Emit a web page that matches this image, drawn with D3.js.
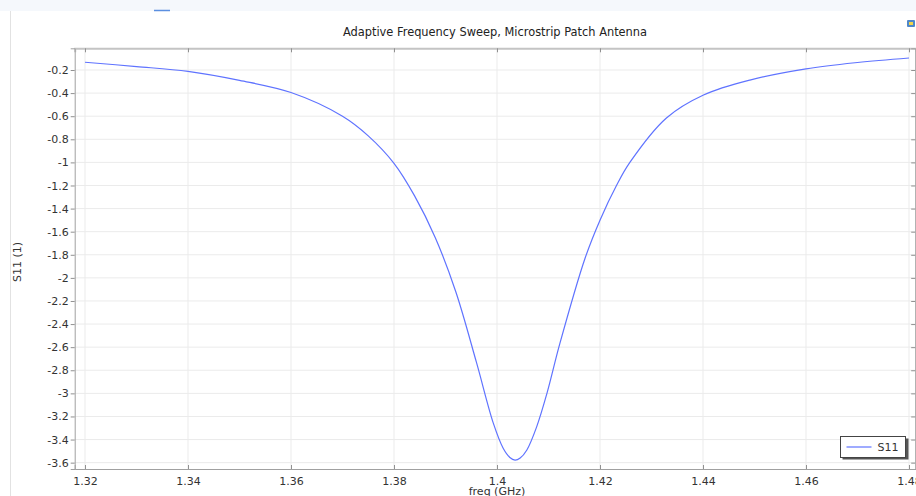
<!DOCTYPE html>
<html>
<head>
<meta charset="utf-8">
<script src="https://cdn.jsdelivr.net/npm/d3@7"></script>
<style>
  html, body { margin: 0; padding: 0; background: #fff; }
  svg { display: block; font-family: "DejaVu Sans", sans-serif; }
</style>
</head>
<body>
<svg id="chart" width="916" height="496"></svg>
<script>
// S11 vs frequency
var freq = [1.32, 1.33, 1.34, 1.35, 1.36, 1.37, 1.375, 1.38, 1.384, 1.388, 1.392, 1.396,
            1.3993, 1.4012, 1.4025, 1.4035, 1.4045, 1.4058, 1.4077, 1.4097, 1.4122, 1.4171,
            1.42, 1.4232, 1.4258, 1.4329, 1.4401, 1.4491, 1.46, 1.47, 1.48];
var s11 = [-0.133, -0.17, -0.212, -0.29, -0.395, -0.60, -0.77, -1.008, -1.29, -1.65, -2.12, -2.73,
           -3.26, -3.475, -3.555, -3.578, -3.56, -3.49, -3.29, -3.00, -2.57, -1.83,
           -1.50, -1.20, -1.00, -0.615, -0.416, -0.287, -0.19, -0.135, -0.096];
var xTicks = [1.32, 1.34, 1.36, 1.38, 1.40, 1.42, 1.44, 1.46, 1.48];
var yTicks = [-0.2, -0.4, -0.6, -0.8, -1, -1.2, -1.4, -1.6, -1.8, -2, -2.2, -2.4, -2.6, -2.8, -3, -3.2, -3.4, -3.6];

var svg = d3.select("#chart");

var pLeft = 74.7, pRight = 916.2, pTop = 48.3, pBottom = 469;

var x = d3.scaleLinear().domain([1.318, 1.4814]).range([pLeft, pRight]);
var y = d3.scaleLinear().domain([-3.655, -0.012]).range([pBottom, pTop]);

// window chrome
svg.append("rect").attr("x", 0).attr("y", 0).attr("width", 916).attr("height", 11).attr("fill", "#f5f8fc");
svg.append("line").attr("x1", 10.5).attr("x2", 10.5).attr("y1", 11).attr("y2", 496)
    .attr("stroke", "#e2e2e2");
svg.append("line").attr("x1", 154).attr("x2", 170).attr("y1", 10.5).attr("y2", 10.5)
    .attr("stroke", "#5b8fe0").attr("stroke-width", 1.5);
svg.append("rect").attr("x", 907).attr("y", 20).attr("width", 8).attr("height", 7).attr("rx", 1)
    .attr("fill", "#4f87c9");
svg.append("rect").attr("x", 909).attr("y", 22).attr("width", 4).attr("height", 3).attr("fill", "#f2d44a");

// grid
svg.append("g").selectAll("line").data(xTicks).enter().append("line")
    .attr("x1", function(d) { return x(d); }).attr("x2", function(d) { return x(d); })
    .attr("y1", pTop).attr("y2", pBottom)
    .attr("stroke", "#ebebeb").attr("stroke-width", 1);
svg.append("g").selectAll("line").data(yTicks).enter().append("line")
    .attr("x1", pLeft).attr("x2", pRight)
    .attr("y1", function(d) { return y(d); }).attr("y2", function(d) { return y(d); })
    .attr("stroke", "#ebebeb").attr("stroke-width", 1);

// axes
var fmt = function(d) { return String(+d.toFixed(2)); };

var gb = svg.append("g").attr("transform", "translate(0," + pBottom + ")")
    .call(d3.axisBottom(x).tickValues(xTicks).tickSize(-4).tickPadding(8).tickFormat(fmt));
var gt = svg.append("g").attr("transform", "translate(0," + pTop + ")")
    .call(d3.axisTop(x).tickValues(xTicks).tickSize(-4).tickFormat(""));
var gl = svg.append("g").attr("transform", "translate(" + pLeft + ",0)")
    .call(d3.axisLeft(y).tickValues(yTicks).tickSize(4).tickPadding(2).tickFormat(fmt));
var gr = svg.append("g").attr("transform", "translate(" + (pRight - 1) + ",0)")
    .call(d3.axisRight(y).tickValues(yTicks).tickSize(-4).tickFormat(""));

[gb, gt, gl, gr].forEach(function(g) {
    g.select(".domain").attr("stroke", "#a0a0a0");
    g.selectAll(".tick line").attr("stroke", "#909090");
    g.selectAll("text").attr("fill", "#333").style("font-size", "11px")
        .style("font-family", "DejaVu Sans, sans-serif");
});
gt.select(".domain").attr("stroke", "#c4c4c4").attr("stroke-width", 2);

// curve
var pts = freq.map(function(f, i) { return [f, s11[i]]; });
var line = d3.line()
    .x(function(d) { return x(d[0]); })
    .y(function(d) { return y(d[1]); })
    .curve(d3.curveCatmullRom.alpha(0.5));
svg.append("path").datum(pts).attr("d", line)
    .attr("fill", "none").attr("stroke", "#5f73ff").attr("stroke-width", 1.2);

// title and labels
svg.append("text").attr("x", 495).attr("y", 36).attr("text-anchor", "middle")
    .style("font-size", "11.4px").attr("fill", "#222")
    .text("Adaptive Frequency Sweep, Microstrip Patch Antenna");
svg.append("text").attr("x", 497).attr("y", 495).attr("text-anchor", "middle")
    .style("font-size", "11px").attr("fill", "#333").text("freq (GHz)");
svg.append("text").attr("transform", "translate(21,262) rotate(-90)").attr("text-anchor", "middle")
    .style("font-size", "11px").attr("fill", "#333").text("S11 (1)");

// legend
var lg = svg.append("g").attr("transform", "translate(840.5,436.5)");
lg.append("rect").attr("x", 2).attr("y", 2).attr("width", 66).attr("height", 21).attr("fill", "#555");
lg.append("rect").attr("width", 65).attr("height", 21).attr("fill", "#fff").attr("stroke", "#444");
lg.append("line").attr("x1", 6).attr("x2", 31).attr("y1", 10.5).attr("y2", 10.5)
    .attr("stroke", "#5f73ff").attr("stroke-width", 1.2);
lg.append("text").attr("x", 37).attr("y", 14.5).style("font-size", "11px").attr("fill", "#333").text("S11");
</script>
</body>
</html>
